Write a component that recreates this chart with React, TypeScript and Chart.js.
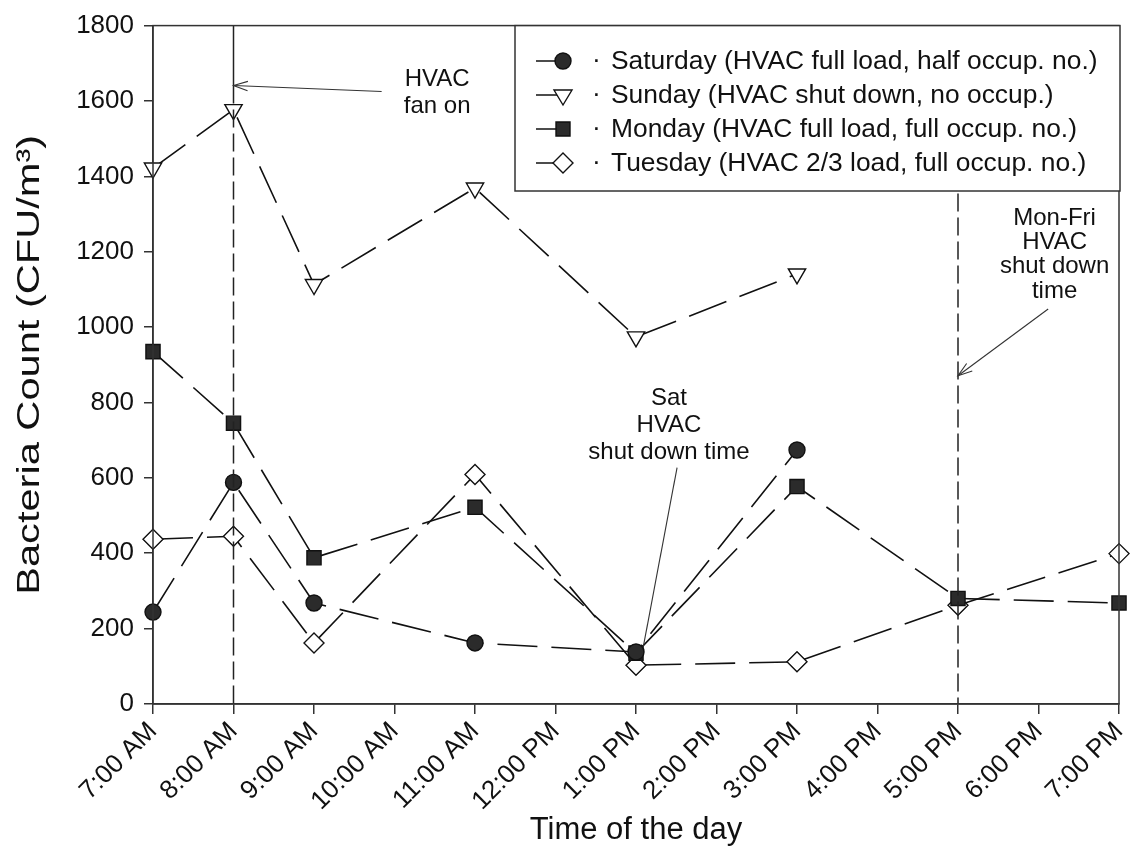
import React, { useEffect, useRef } from 'react';
import { Chart, registerables } from 'chart.js';

Chart.register(...registerables);

const timeLabels = ['7:00 AM', '8:00 AM', '9:00 AM', '10:00 AM', '11:00 AM', '12:00 PM', '1:00 PM', '2:00 PM', '3:00 PM', '4:00 PM', '5:00 PM', '6:00 PM', '7:00 PM'];

const saturday = [244, 588, 268, null, 162, null, 138, null, 674, null, null, null, null];
const sunday = [1422, 1577, 1113, null, 1369, null, 974, null, 1141, null, null, null, null];
const monday = [935, 745, 388, null, 522, null, 135, null, 577, null, 280, null, 268];
const tuesday = [437, 445, 162, null, 609, null, 103, null, 112, null, 262, null, 399];

const seriesNames = [
  'Saturday (HVAC full load, half occup. no.)',
  'Sunday (HVAC shut down, no occup.)',
  'Monday (HVAC full load, full occup. no.)',
  'Tuesday (HVAC 2/3 load, full occup. no.)',
];

const yMin = 0;
const yMax = 1800;
const yStep = 200;
const yTitle = 'Bacteria Count (CFU/m³)';
const xTitle = 'Time of the day';

const FONT = '"Liberation Sans", Arial, Helvetica, sans-serif';
const INK = '#111';

type Marker = 'circle' | 'triDown' | 'square' | 'diamond';
const markers: Marker[] = ['circle', 'triDown', 'square', 'diamond'];

function drawMarker(ctx: CanvasRenderingContext2D, kind: Marker, x: number, y: number) {
  ctx.save();
  ctx.setLineDash([]);
  ctx.lineWidth = 1.4;
  ctx.strokeStyle = INK;
  ctx.beginPath();
  if (kind === 'circle') {
    ctx.arc(x, y, 8, 0, Math.PI * 2);
    ctx.fillStyle = '#2b2b2b';
  } else if (kind === 'square') {
    ctx.rect(x - 7, y - 7, 14, 14);
    ctx.fillStyle = '#2b2b2b';
  } else if (kind === 'triDown') {
    ctx.moveTo(x - 9, y - 5);
    ctx.lineTo(x + 9, y - 5);
    ctx.lineTo(x, y + 10);
    ctx.closePath();
    ctx.fillStyle = '#fff';
  } else {
    ctx.moveTo(x, y - 10);
    ctx.lineTo(x + 10, y);
    ctx.lineTo(x, y + 10);
    ctx.lineTo(x - 10, y);
    ctx.closePath();
    ctx.fillStyle = '#fff';
  }
  ctx.fill();
  ctx.stroke();
  ctx.restore();
}

function arrow(ctx: CanvasRenderingContext2D, x1: number, y1: number, x2: number, y2: number, head: boolean) {
  ctx.beginPath();
  ctx.moveTo(x1, y1);
  ctx.lineTo(x2, y2);
  ctx.stroke();
  if (head) {
    const ang = Math.atan2(y2 - y1, x2 - x1);
    const len = 15;
    const spread = 0.32;
    ctx.beginPath();
    ctx.moveTo(x2 - len * Math.cos(ang - spread), y2 - len * Math.sin(ang - spread));
    ctx.lineTo(x2, y2);
    ctx.lineTo(x2 - len * Math.cos(ang + spread), y2 - len * Math.sin(ang + spread));
    ctx.stroke();
  }
}

const annotationPlugin = {
  id: 'annotations',
  afterDatasetsDraw(chart: any) {
    const { ctx, chartArea: a, scales } = chart;
    const x = scales.x;
    const y = scales.y;
    const X = (v: number) => x.getPixelForValue(v);
    const Y = (v: number) => y.getPixelForValue(v);
    ctx.save();
    // vertical event lines at 8:00 AM and 5:00 PM
    ctx.strokeStyle = '#222';
    ctx.lineWidth = 1.5;
    const p8 = X(1);
    ctx.beginPath();
    ctx.moveTo(p8, a.top);
    ctx.lineTo(p8, Y(1641));
    ctx.stroke();
    ctx.setLineDash([18, 6]);
    ctx.beginPath();
    ctx.moveTo(p8, Y(1641));
    ctx.lineTo(p8, a.bottom);
    ctx.stroke();
    const p5 = X(10);
    ctx.beginPath();
    ctx.moveTo(p5, a.top);
    ctx.lineTo(p5, a.bottom);
    ctx.stroke();
    ctx.setLineDash([]);

    // arrows
    ctx.lineWidth = 1.1;
    ctx.strokeStyle = '#333';
    arrow(ctx, X(2.84), Y(1625), X(1), Y(1641), true);
    arrow(ctx, X(6.51), Y(627), X(6.09), Y(151), false);
    arrow(ctx, X(11.12), Y(1048), X(10), Y(871), true);

    // annotation text
    ctx.fillStyle = INK;
    ctx.font = `24px ${FONT}`;
    ctx.textAlign = 'center';
    ctx.textBaseline = 'middle';
    ctx.fillText('HVAC', X(3.53), Y(1657));
    ctx.fillText('fan on', X(3.53), Y(1586));
    ctx.fillText('Sat', X(6.41), Y(810));
    ctx.fillText('HVAC', X(6.41), Y(738));
    ctx.fillText('shut down time', X(6.41), Y(667));
    ctx.fillText('Mon-Fri', X(11.2), Y(1289));
    ctx.fillText('HVAC', X(11.2), Y(1226));
    ctx.fillText('shut down', X(11.2), Y(1160));
    ctx.fillText('time', X(11.2), Y(1094));
    ctx.restore();
  },
  afterDraw(chart: any) {
    const { ctx, chartArea: a } = chart;
    ctx.save();
    // plot frame (top and right)
    ctx.strokeStyle = '#333';
    ctx.lineWidth = 1.5;
    ctx.setLineDash([]);
    ctx.strokeRect(a.left, a.top, a.right - a.left, a.bottom - a.top);

    // y-axis title (drawn stretched along its length like the scanned original)
    ctx.save();
    ctx.translate(30, (a.top + a.bottom) / 2);
    ctx.rotate(-Math.PI / 2);
    ctx.scale(1.3, 1);
    ctx.font = `32px ${FONT}`;
    ctx.fillStyle = INK;
    ctx.textAlign = 'center';
    ctx.textBaseline = 'middle';
    ctx.fillText(yTitle, 0, 0);
    ctx.restore();

    // legend box
    const l = 515;
    const t = a.top;
    const r = a.right + 1;
    const b = 191;
    ctx.fillStyle = '#fff';
    ctx.fillRect(l, t, r - l, b - t);
    ctx.strokeRect(l, t, r - l, b - t);
    const rows = [61, 95, 129, 163];
    ctx.font = `26.4px ${FONT}`;
    ctx.textBaseline = 'middle';
    ctx.textAlign = 'left';
    rows.forEach((ry, i) => {
      ctx.strokeStyle = INK;
      ctx.lineWidth = 1.5;
      ctx.beginPath();
      ctx.moveTo(536, ry);
      ctx.lineTo(563, ry);
      ctx.stroke();
      drawMarker(ctx, markers[i], 563, ry);
      ctx.fillStyle = INK;
      ctx.fillText('·', 592, ry);
      ctx.fillText(seriesNames[i], 611, ry + 1);
    });
    ctx.restore();
  },
};

function makeDataset(label: string, data: (number | null)[], style: string, rotation: number, fill: string, radius: number) {
  return {
    label,
    data,
    borderColor: INK,
    borderWidth: 1.6,
    borderDash: [40, 14],
    pointStyle: style,
    pointRotation: rotation,
    pointRadius: radius,
    pointBackgroundColor: fill,
    pointBorderColor: INK,
    pointBorderWidth: 1.4,
    spanGaps: true,
    tension: 0,
    fill: false,
  };
}

export default function App() {
  const ref = useRef<HTMLCanvasElement>(null);
  useEffect(() => {
    if (!ref.current) return;
    const chart = new Chart(ref.current, {
      type: 'line',
      data: {
        labels: timeLabels,
        datasets: [
          makeDataset(seriesNames[0], saturday, 'circle', 0, '#2b2b2b', 8),
          makeDataset(seriesNames[1], sunday, 'triangle', 180, '#fff', 10),
          makeDataset(seriesNames[2], monday, 'rect', 0, '#2b2b2b', 10),
          makeDataset(seriesNames[3], tuesday, 'rectRot', 0, '#fff', 10),
        ] as any,
      },
      options: {
        responsive: false,
        animation: false,
        layout: { padding: { left: 0, right: 15, top: 24, bottom: 0 } },
        plugins: {
          legend: { display: false },
          tooltip: { enabled: false },
        },
        scales: {
          x: {
            type: 'category',
            offset: false,
            grid: { display: true, drawOnChartArea: false, drawTicks: true, tickLength: 10, color: '#333', lineWidth: 1.5 },
            border: { display: true, color: '#333', width: 1.5 },
            ticks: {
              autoSkip: false,
              maxRotation: 45,
              minRotation: 45,
              padding: 2,
              color: INK,
              font: { family: FONT, size: 26 },
            },
            title: {
              display: true,
              text: xTitle,
              color: INK,
              font: { family: FONT, size: 31, lineHeight: 1 },
              padding: { top: 0, bottom: 0 },
            },
            afterFit: (s: any) => {
              s.height = 142;
              s.paddingRight = 0;
              s.paddingLeft = 0;
            },
          },
          y: {
            min: yMin,
            max: yMax,
            grid: { display: true, drawOnChartArea: false, drawTicks: true, tickLength: 9, color: '#333', lineWidth: 1.5 },
            border: { display: true, color: '#333', width: 1.5 },
            ticks: {
              stepSize: yStep,
              padding: 10,
              color: INK,
              font: { family: FONT, size: 26 },
              callback: (v: any) => String(v),
            },
            title: { display: false },
            afterFit: (s: any) => {
              s.width = 153;
            },
          },
        },
      },
      plugins: [annotationPlugin],
    });
    return () => chart.destroy();
  }, []);
  return (
    <div style={{ position: 'absolute', left: 0, top: 0, width: 1134, height: 846, background: '#fff' }}>
      <canvas ref={ref} width={1134} height={846} style={{ display: 'block' }} />
    </div>
  );
}
